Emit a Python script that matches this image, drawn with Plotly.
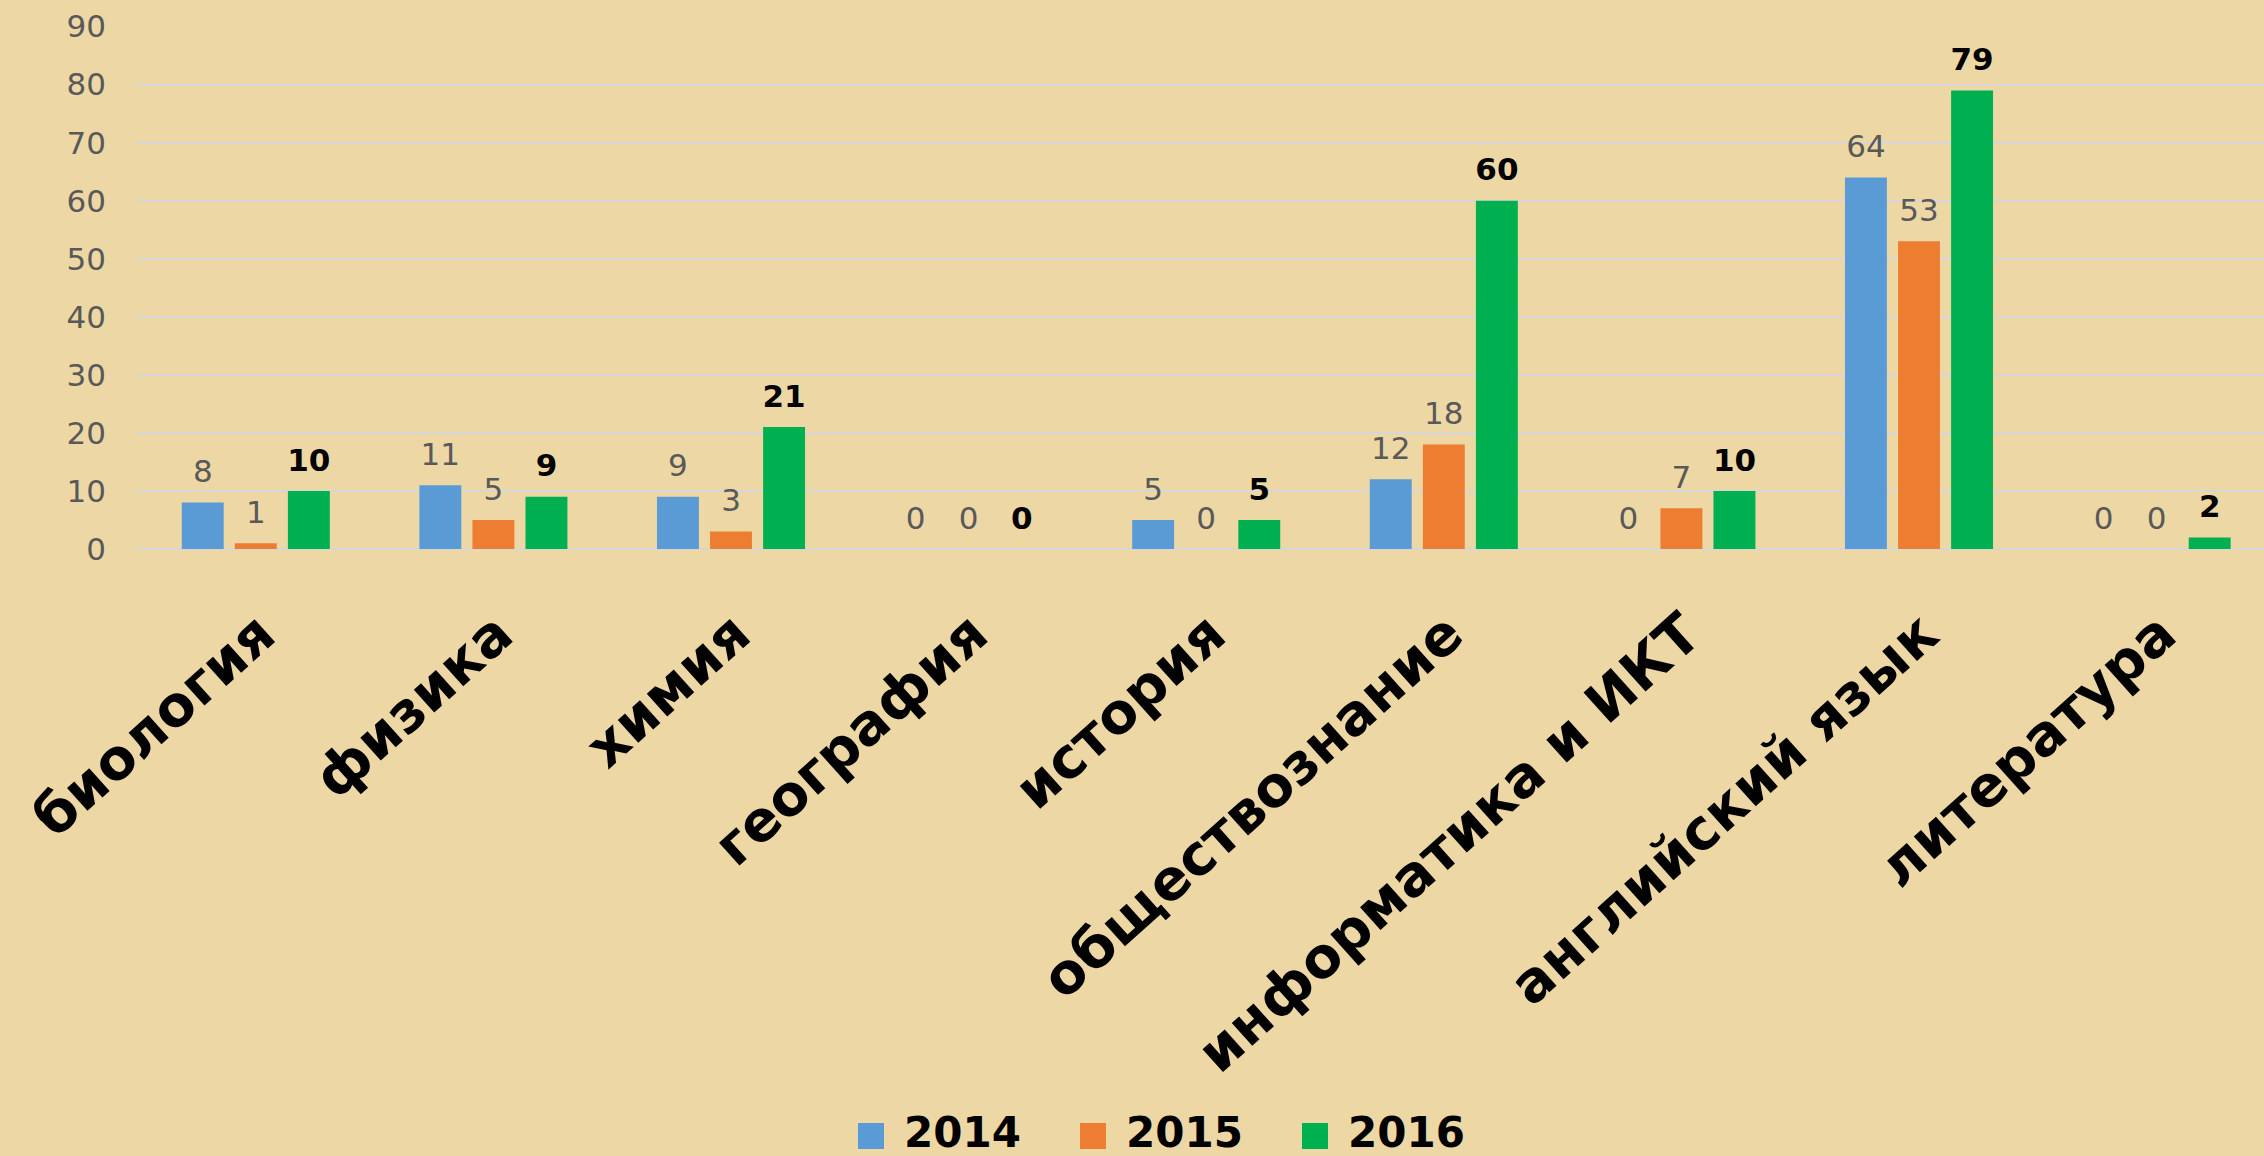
import plotly.graph_objects as go

subjects = [
    "биология", "физика", "химия", "география", "история",
    "обществознание", "информатика и ИКТ", "английский язык", "литература",
]
years = ["2014", "2015", "2016"]
values_2014 = [8, 11, 9, 0, 5, 12, 0, 64, 0]
values_2015 = [1, 5, 3, 0, 0, 18, 7, 53, 0]
values_2016 = [10, 9, 21, 0, 5, 60, 10, 79, 2]
y_ticks = list(range(0, 100, 10))

COLORS = ["#5B9BD5", "#ED7D31", "#00B050"]
BG = "#EDD8A5"
GRID = "#D6D6D6"
FONT = "DejaVu Sans"

W, H = 2264, 1156
M_L, M_R, M_T, M_B = 137, 0, 26, 607
PLOT_W = W - M_L - M_R
PLOT_H = H - M_T - M_B


def label_text(v):
    # second (empty) line lifts the value off the bar top like in Excel
    return f"<span style='font-size:31px'>{v}</span><br>&nbsp;"


fig = go.Figure()
series = [values_2014, values_2015, values_2016]
for i, (name, vals) in enumerate(zip(years, series)):
    bold = i == 2
    fig.add_trace(
        go.Bar(
            x=subjects,
            y=vals,
            name=name,
            marker=dict(color=COLORS[i], line=dict(width=0)),
            text=[label_text(v) for v in vals],
            textposition="outside",
            constraintext="none",
            textfont=dict(
                family=FONT,
                size=11,
                color="#000000" if bold else "#595959",
                weight="bold" if bold else "normal",
            ),
            cliponaxis=False,
            showlegend=False,
        )
    )


def px_to_paper_x(px):
    return (px - M_L) / PLOT_W


def px_to_paper_y(py):
    return (H - M_B - py) / PLOT_H


# custom legend (large square swatches like the original)
legend_y = 1132
sq = 26
for i, name in enumerate(years):
    cx = 871 + 222 * i
    fig.add_shape(
        type="rect",
        xref="paper", yref="paper",
        x0=px_to_paper_x(cx - sq / 2), x1=px_to_paper_x(cx + sq / 2),
        y0=px_to_paper_y(legend_y + 4 + sq / 2), y1=px_to_paper_y(legend_y + 4 - sq / 2),
        fillcolor=COLORS[i], line=dict(width=0),
    )
    fig.add_annotation(
        xref="paper", yref="paper",
        x=px_to_paper_x(cx + 32), y=px_to_paper_y(legend_y),
        xanchor="left", yanchor="middle",
        text=name, showarrow=False, borderpad=0,
        font=dict(family=FONT, size=42, color="#000000", weight="bold"),
    )

fig.update_layout(
    width=W,
    height=H,
    autosize=False,
    paper_bgcolor=BG,
    plot_bgcolor="rgba(0,0,0,0)",
    margin=dict(l=M_L, r=M_R, t=M_T, b=M_B, autoexpand=False),
    barmode="group",
    bargap=0.33,
    bargroupgap=0.21,
    showlegend=False,
    xaxis=dict(
        range=[-0.5, 8.452],
        showgrid=False,
        showline=False,
        zeroline=False,
        ticks="",
        tickangle=-42,
        ticklabelstandoff=40,
        ticklabelshift=4,
        tickfont=dict(family=FONT, size=56, color="#000000", weight="bold"),
    ),
    yaxis=dict(
        range=[0, 90.1],
        tickvals=y_ticks,
        showgrid=True,
        gridcolor=GRID,
        gridwidth=2,
        zeroline=True,
        zerolinecolor=GRID,
        zerolinewidth=2,
        showline=False,
        ticks="",
        ticklabelstandoff=30,
        tickfont=dict(family=FONT, size=31, color="#595959"),
    ),
)

fig.write_html(
    "out.html",
    config={"displayModeBar": False},
    post_script="document.body.style.margin='0';document.body.style.overflow='hidden';",
)
